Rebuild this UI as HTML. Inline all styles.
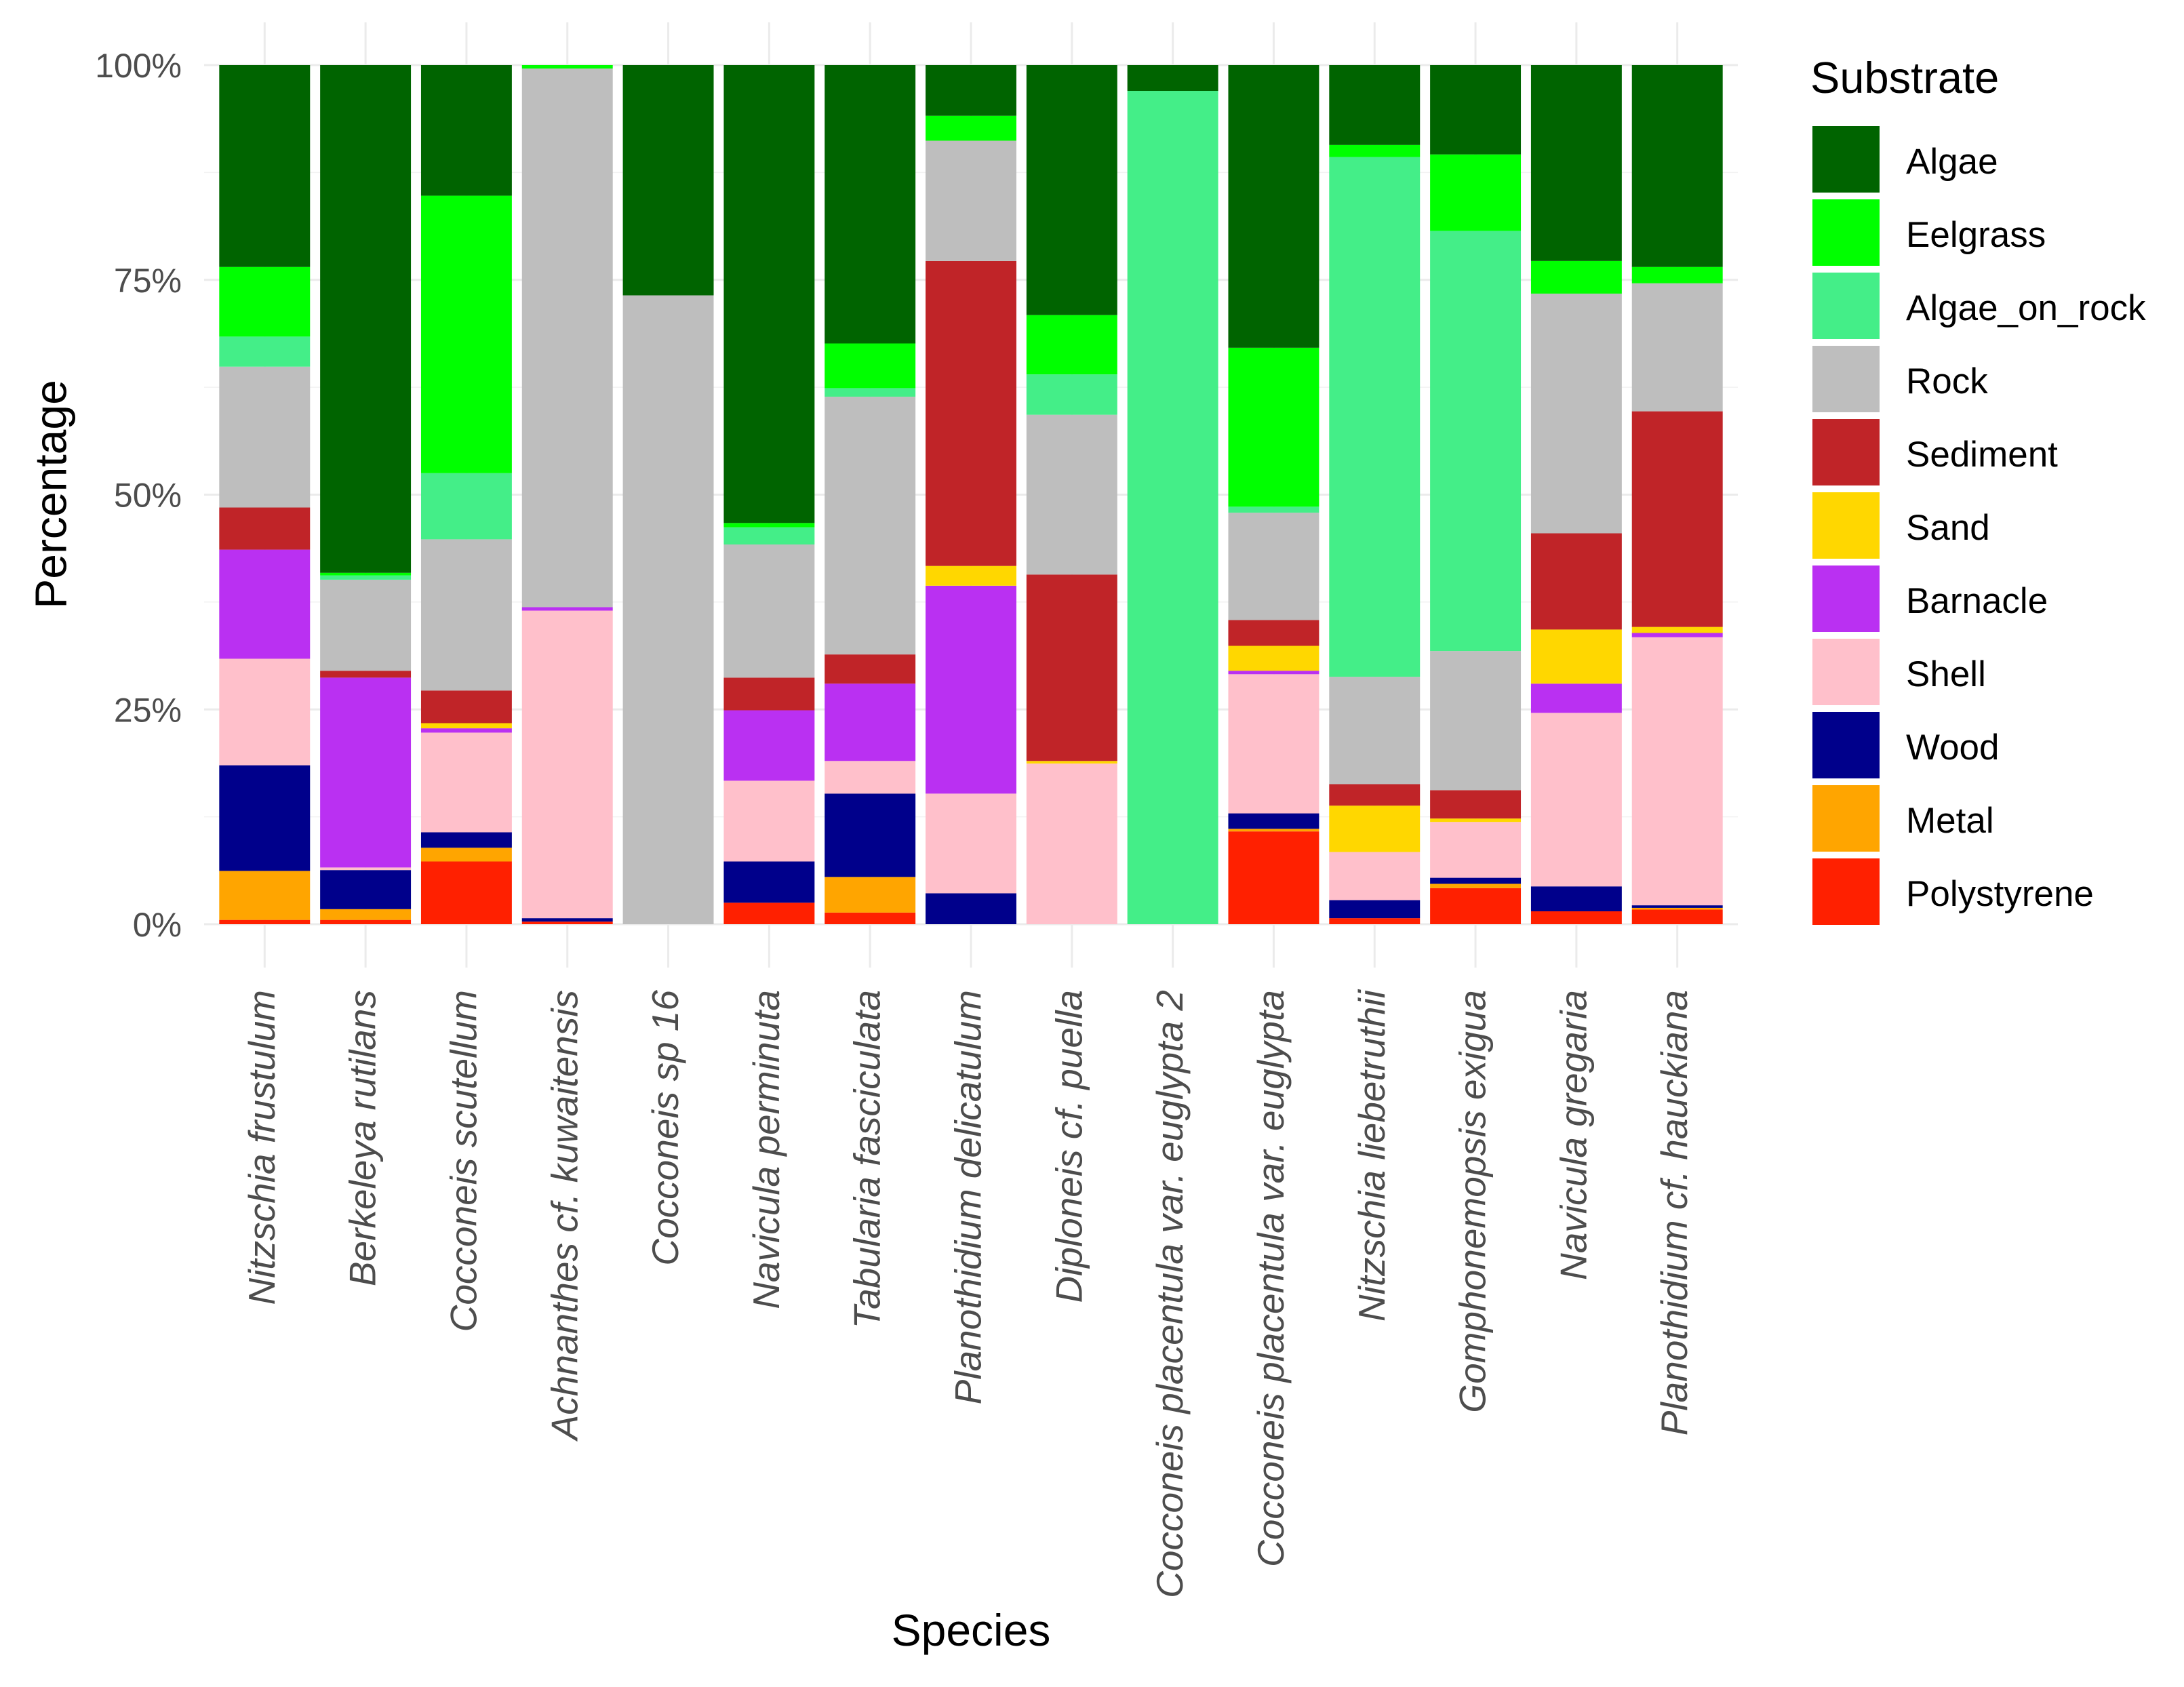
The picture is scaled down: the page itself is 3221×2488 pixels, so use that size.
<!DOCTYPE html>
<html><head><meta charset="utf-8"><style>
html,body{margin:0;padding:0;background:#fff;}
svg{display:block;font-family:"Liberation Sans",Arial,sans-serif;}
</style></head><body>
<svg id="chart" width="3221" height="2488" viewBox="0 0 3221 2488" xmlns="http://www.w3.org/2000/svg">
<g id="grid"></g>
<g id="bars"></g>
<g id="yaxis"></g>
<g id="xaxis"></g>
<text x="80" y="729" transform="rotate(-90 80 729)" text-anchor="middle" dominant-baseline="middle" font-size="66" fill="#000">Percentage</text>
<text x="1432" y="2427" text-anchor="middle" font-size="66" fill="#000">Species</text>
<g id="legend">
<text x="2670" y="137" font-size="65" fill="#000">Substrate</text>
</g>
</svg>
<script>
const species = ["Nitzschia frustulum","Berkeleya rutilans","Cocconeis scutellum","Achnanthes cf. kuwaitensis","Cocconeis sp 16","Navicula perminuta","Tabularia fasciculata","Planothidium delicatulum","Diploneis cf. puella","Cocconeis placentula var. euglypta 2","Cocconeis placentula var. euglypta","Nitzschia liebetruthii","Gomphonemopsis exigua","Navicula gregaria","Planothidium cf. hauckiana"];
const substrates = ["Algae","Eelgrass","Algae_on_rock","Rock","Sediment","Sand","Barnacle","Shell","Wood","Metal","Polystyrene"];
const substrateColors = ["#006400","#00FF00","#44EE88","#BEBEBE","#C02428","#FFD700","#BA30F2","#FFC0CB","#00008B","#FFA500","#FF2000"];
// values per substrate (order of species)
const algae       = [23.5,59.1,15.2,0,26.8,53.3,32.4,5.9,29.1,3.0,32.9,9.3,10.4,22.8,23.5];
const eelgrass    = [8.1,0.3,32.3,0.4,0,0.5,5.2,2.9,6.9,0,18.5,1.4,8.9,3.8,1.9];
const algaeOnRock = [3.5,0.5,7.7,0,0,2.0,1.0,0,4.7,97.0,0.7,60.5,48.9,0,0];
const rock        = [16.4,10.6,17.6,62.7,73.2,15.5,30.0,14.0,18.6,0,12.5,12.5,16.2,27.9,14.9];
const sediment    = [4.9,0.8,3.8,0,0,3.8,3.4,35.5,21.7,0,3.0,2.5,3.3,11.2,25.1];
const sand        = [0,0,0.6,0,0,0,0,2.3,0.3,0,2.9,5.4,0.4,6.3,0.7];
const barnacle    = [12.7,22.1,0.5,0.4,0,8.2,9.0,24.2,0,0,0.4,0,0,3.4,0.5];
const shell       = [12.4,0.3,11.6,35.8,0,9.4,3.8,11.6,18.7,0,16.2,5.6,6.5,20.2,31.2];
const wood        = [12.3,4.55,1.8,0.4,0,4.8,9.7,3.6,0,0,1.8,2.1,0.7,2.9,0.3];
const metal       = [5.7,1.25,1.6,0,0,0,4.15,0,0,0,0.3,0,0.5,0,0.2];
const polystyrene = [0.5,0.5,7.3,0.3,0,2.5,1.35,0,0,0,10.8,0.7,4.2,1.5,1.7];
const seriesValues = [algae,eelgrass,algaeOnRock,rock,sediment,sand,barnacle,shell,wood,metal,polystyrene];
const yTicks = [0,25,50,75,100];
const yTickLabels = ["0%","25%","50%","75%","100%"];

const NS="http://www.w3.org/2000/svg";
const plotL=301, plotR=2563, plotT=33, plotB=1427;
const y0=1363, y100=96;
const step=(plotR-plotL)/(species.length+0.2);
function xCenter(i){return plotL+0.6*step+i*step;}
function yScale(v){return y0-(v/100)*(y0-y100);}
const barW=step*0.9;
function mk(tag,attrs,parent){const e=document.createElementNS(NS,tag);for(const k in attrs)e.setAttribute(k,attrs[k]);parent.appendChild(e);return e;}

const grid=document.getElementById('grid');
for(let v=12.5;v<100;v+=25){
  const l=mk('line',{x1:plotL,x2:plotR,y1:yScale(v),y2:yScale(v),stroke:'#f2f2f2','stroke-width':1.5},grid);
  
  
}
yTicks.forEach(v=>{
  const l=mk('line',{x1:plotL,x2:plotR,y1:yScale(v),y2:yScale(v),stroke:'#ebebeb','stroke-width':3},grid);
  
  
});
species.forEach((s,i)=>{
  const l=mk('line',{x1:xCenter(i),x2:xCenter(i),y1:plotT,y2:plotB,stroke:'#ebebeb','stroke-width':3},grid);
  
  
});

const bars=document.getElementById('bars');
species.forEach((s,i)=>{
  let total=0; seriesValues.forEach(arr=>total+=arr[i]);
  let cum=0;
  for(let k=seriesValues.length-1;k>=0;k--){
    const v=seriesValues[k][i]/total*100;
    if(v<=0)continue;
    const top=yScale(cum+v), bot=yScale(cum);
    const r=mk('rect',{x:xCenter(i)-barW/2,y:top,width:barW,height:bot-top,fill:substrateColors[k]},bars);
    
    
    cum+=v;
  }
});

const ya=document.getElementById('yaxis');
yTicks.forEach((v,j)=>{
  const t=mk('text',{x:268,y:yScale(v)+5,'text-anchor':'end','dominant-baseline':'middle','font-size':50,fill:'#4d4d4d'},ya);
  t.textContent=yTickLabels[j];
  
  
});
const xa=document.getElementById('xaxis');
species.forEach((s,i)=>{
  const x=xCenter(i), y=1460;
  const t=mk('text',{x:x,y:y,transform:`rotate(-90 ${x} ${y})`,'text-anchor':'end','dominant-baseline':'middle','font-size':55,'font-style':'italic',fill:'#4d4d4d'},xa);
  t.textContent=s;
  
  
});

const lg=document.getElementById('legend');
substrates.forEach((s,k)=>{
  const top=186+k*108;
  const r=mk('rect',{x:2673,y:top,width:99,height:98,fill:substrateColors[k]},lg);
  
  
  const t=mk('text',{x:2811,y:top+56,'dominant-baseline':'middle','font-size':53,fill:'#000'},lg);
  t.textContent=s;
  
  
});
</script>
</body></html>
